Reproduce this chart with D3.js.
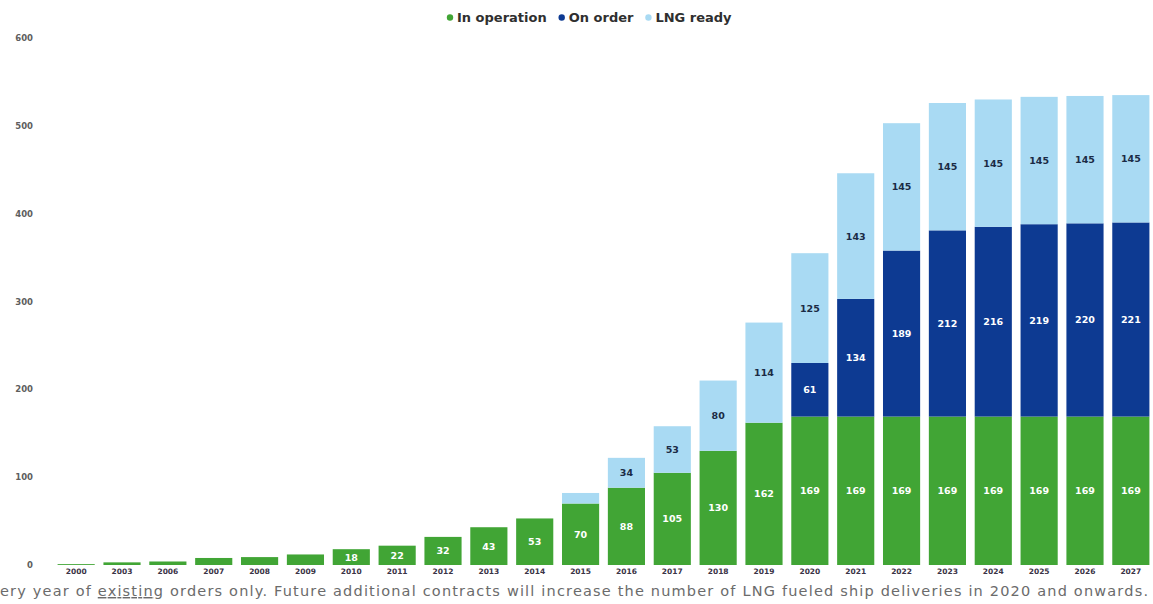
<!DOCTYPE html>
<html>
<head>
<meta charset="utf-8">
<script src="https://cdn.jsdelivr.net/npm/d3@7"></script>
<style>
  body { margin: 0; background: #fff; }
  svg { display: block; }
</style>
</head>
<body>
<script>
const width = 1153;
const height = 604;

// data
const years = ['2000', '2003', '2006', '2007', '2008', '2009', '2010', '2011', '2012', '2013', '2014', '2015',
               '2016', '2017', '2018', '2019', '2020', '2021', '2022', '2023', '2024', '2025', '2026', '2027'];
const inOperation = [1, 3, 4, 8, 9, 12, 18, 22, 32, 43, 53, 70, 88, 105, 130, 162, 169, 169, 169, 169, 169, 169, 169, 169];
const onOrder     = [0, 0, 0, 0, 0, 0, 0, 0, 0, 0, 0, 0, 0, 0, 0, 0, 61, 134, 189, 212, 216, 219, 220, 221];
const lngReady    = [0, 0, 0, 0, 0, 0, 0, 0, 0, 0, 0, 12, 34, 53, 80, 114, 125, 143, 145, 145, 145, 145, 145, 145];
const yTicks = [0, 100, 200, 300, 400, 500, 600];
const seriesNames = ['In operation', 'On order', 'LNG ready'];
const footnote = 'ery year of ';
const footnoteUnderlined = 'existing';
const footnoteRest = ' orders only. Future additional contracts will increase the number of LNG fueled ship deliveries in 2020 and onwards.';

const colors = { 'In operation': '#41a535', 'On order': '#0d3a92', 'LNG ready': '#a9daf3' };
const labelColors = { 'In operation': '#ffffff', 'On order': '#ffffff', 'LNG ready': '#1b2b45' };
const minLabel = 15; // small segments carry no label

const rows = years.map((y, i) => ({
    year: y,
    'In operation': inOperation[i],
    'On order': onOrder[i],
    'LNG ready': lngReady[i]
}));

const stack = d3.stack().keys(seriesNames);
const layers = stack(rows);

//scales
const xScale = d3.scaleBand()
    .domain(years)
    .range([53, 1154])
    .paddingInner(0.19)
    .paddingOuter(0.1);
const yScale = d3.scaleLinear()
    .domain([0, 600])
    .range([565, 38]);

const svg = d3.select('body')
    .append('svg')
        .attr('width', width)
        .attr('height', height);

//y axis labels (no line, no ticks)
svg.append('g')
    .selectAll('text')
    .data(yTicks)
    .enter()
    .append('text')
        .attr('x', 33)
        .attr('y', d => yScale(d) + 3)
        .attr('text-anchor', 'end')
        .style('font-family', 'DejaVu Sans, Verdana, sans-serif')
        .style('font-size', '8.5px')
        .style('font-weight', 'bold')
        .attr('fill', '#5e5e5e')
        .text(d => d);

//x axis labels
const xAxis = d3.axisBottom(xScale).tickSize(0).tickPadding(4);
const gx = svg.append('g')
    .attr('transform', `translate(0, ${yScale(0)})`)
    .call(xAxis);
gx.select('.domain').remove();
gx.selectAll('text')
    .style('font-family', 'DejaVu Sans, Verdana, sans-serif')
    .style('font-size', '7.5px')
    .style('font-weight', 'bold')
    .attr('fill', '#3a3346');

//stacked bars
const layerG = svg.selectAll('.layer')
    .data(layers)
    .enter()
    .append('g')
        .attr('class', 'layer')
        .attr('fill', d => colors[d.key]);

layerG.selectAll('rect')
    .data(d => d)
    .enter()
    .append('rect')
        .attr('x', d => xScale(d.data.year))
        .attr('y', d => yScale(d[1]))
        .attr('width', xScale.bandwidth())
        .attr('height', d => yScale(d[0]) - yScale(d[1]));

//value labels
layers.forEach(layer => {
    svg.append('g')
        .selectAll('text')
        .data(layer.filter(d => d[1] - d[0] >= minLabel))
        .enter()
        .append('text')
            .attr('x', d => xScale(d.data.year) + xScale.bandwidth() / 2)
            .attr('y', d => (yScale(d[0]) + yScale(d[1])) / 2 + 3.5)
            .attr('text-anchor', 'middle')
            .style('font-family', 'DejaVu Sans, Verdana, sans-serif')
            .style('font-size', '9.5px')
            .style('font-weight', 'bold')
            .attr('fill', labelColors[layer.key])
            .text(d => d[1] - d[0]);
});

//legend
const legend = svg.append('g')
    .attr('transform', 'translate(447, 22)');
let lx = 0;
seriesNames.forEach(name => {
    legend.append('circle')
        .attr('cx', lx + 3)
        .attr('cy', -4.5)
        .attr('r', 3.2)
        .attr('fill', colors[name]);
    const t = legend.append('text')
        .attr('x', lx + 10)
        .attr('y', 0)
        .style('font-family', 'DejaVu Sans, Verdana, sans-serif')
        .style('font-size', '13px')
        .style('font-weight', 'bold')
        .attr('fill', '#2f2f2f')
        .text(name);
    lx += 10 + t.node().getComputedTextLength() + 12;
});

//footnote under the chart
const note = svg.append('text')
    .attr('x', 0)
    .attr('y', 596)
    .attr('textLength', 1148)
    .attr('lengthAdjust', 'spacing')
    .style('font-family', 'DejaVu Sans, Verdana, sans-serif')
    .style('font-size', '14.5px')
    .attr('fill', '#6b6b6b');
note.append('tspan').text(footnote);
note.append('tspan').style('text-decoration', 'underline').text(footnoteUnderlined);
note.append('tspan').text(footnoteRest);
</script>
</body>
</html>
